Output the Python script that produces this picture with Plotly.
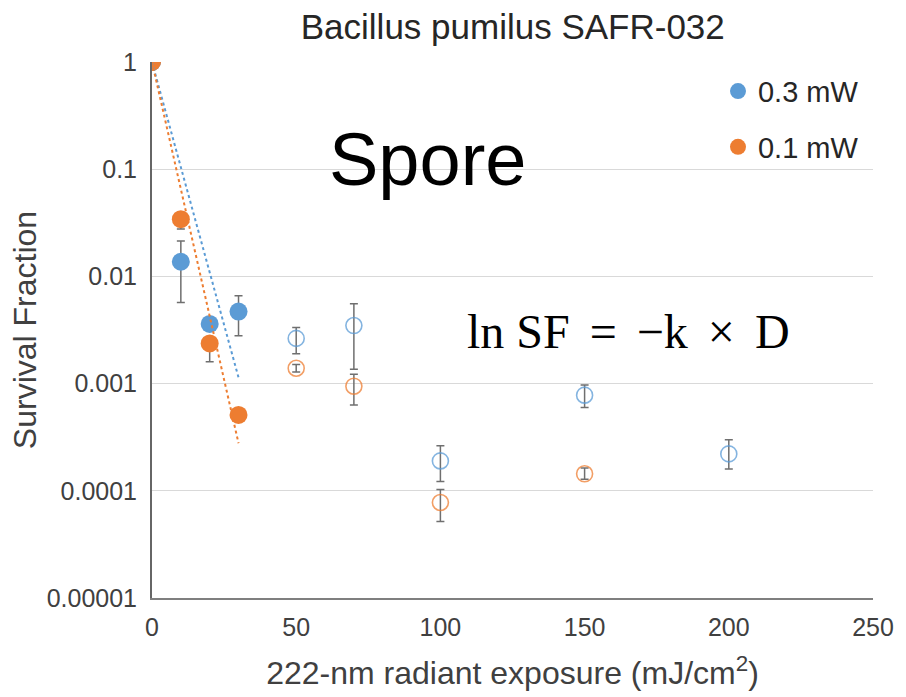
import numpy as np
import plotly.graph_objects as go

# ---- data ----
x_filled = [0, 10, 20, 30]
blue_sf = [1.0, 0.0137, 0.0036, 0.0047]
blue_hi = [1.0, 0.0214, 0.0038, 0.0066]
blue_lo = [1.0, 0.0057, 0.0034, 0.0028]

orange_sf = [1.0, 0.0342, 0.00237, 0.00051]
orange_hi = [1.0, 0.0370, 0.0027, 0.00055]
orange_lo = [1.0, 0.0277, 0.0016, 0.00046]

x_open_blue = [50, 70, 100, 150, 200]
blue_open_sf = [0.00264, 0.00348, 0.00019, 0.00078, 0.000221]
blue_open_hi = [0.00334, 0.00557, 0.000263, 0.00097, 0.0003]
blue_open_lo = [0.0019, 0.00136, 0.000122, 0.0006, 0.00016]

x_open_orange = [50, 70, 100, 150]
orange_open_sf = [0.00139, 0.000946, 0.0000778, 0.000144]
orange_open_hi = [0.00151, 0.00122, 0.000103, 0.000163]
orange_open_lo = [0.00128, 0.00063, 0.0000518, 0.000128]

y_tickvals = [1, 0.1, 0.01, 0.001, 0.0001, 0.00001]
y_ticktext = ["1", "0.1", "0.01", "0.001", "0.0001", "0.00001"]
x_tickvals = [0, 50, 100, 150, 200, 250]

BLUE = "#5B9BD5"
ORANGE = "#ED7D31"
BLUE_OPEN = "rgba(91,155,213,0.75)"
ORANGE_OPEN = "rgba(237,125,49,0.75)"
ERR = "#6F6F6F"
SANS = "Liberation Sans, Arial, sans-serif"


def errs(v, hi, lo):
    v = np.array(v); hi = np.array(hi); lo = np.array(lo)
    return dict(type="data", symmetric=False, array=(hi - v).tolist(),
                arrayminus=(v - lo).tolist(), color=ERR, thickness=1.5, width=4)


def fit_line(x, y):
    # ln SF = -k D  (fit through origin on log scale)
    x = np.array(x, float); ly = np.log(np.array(y, float))
    k = -np.sum(x * ly) / np.sum(x * x)
    xs = np.array([x[0], x[-1]])
    return xs.tolist(), np.exp(-k * xs).tolist()


fig = go.Figure()

bx, by = fit_line(x_filled, blue_sf)
ox, oy = fit_line(x_filled, orange_sf)

fig.add_trace(go.Scatter(x=x_open_blue, y=blue_open_sf, mode="markers", showlegend=False,
                         marker=dict(symbol="circle-open", size=16, color=BLUE_OPEN, line=dict(width=1.6)),
                         error_y=errs(blue_open_sf, blue_open_hi, blue_open_lo)))
fig.add_trace(go.Scatter(x=x_open_orange, y=orange_open_sf, mode="markers", showlegend=False,
                         marker=dict(symbol="circle-open", size=16, color=ORANGE_OPEN, line=dict(width=1.6)),
                         error_y=errs(orange_open_sf, orange_open_hi, orange_open_lo)))

fig.add_trace(go.Scatter(x=x_filled, y=blue_sf, mode="markers", name="0.3 mW", legendgroup="a",
                         marker=dict(size=18, color=BLUE),
                         error_y=errs(blue_sf, blue_hi, blue_lo)))
fig.add_trace(go.Scatter(x=x_filled, y=orange_sf, mode="markers", name="0.1 mW", legendgroup="b",
                         marker=dict(size=18, color=ORANGE),
                         error_y=errs(orange_sf, orange_hi, orange_lo)))

fig.add_trace(go.Scatter(x=bx, y=by, mode="lines", showlegend=False,
                         line=dict(color=BLUE, width=2, dash="dot")))
fig.add_trace(go.Scatter(x=ox, y=oy, mode="lines", showlegend=False,
                         line=dict(color=ORANGE, width=2, dash="dot")))

fig.update_layout(
    width=906, height=697,
    margin=dict(l=152, r=26, t=62, b=96),
    paper_bgcolor="white", plot_bgcolor="white",
    font=dict(family=SANS, color="#404040"),
    title=dict(text="Bacillus pumilus SAFR-032", x=0.566, xanchor="center",
               y=1 - 27 / 697, yanchor="middle", yref="container",
               font=dict(size=35, color="#262626", family=SANS)),
    legend=dict(x=0.785, xanchor="left", y=0.993, yanchor="top",
                font=dict(size=29, color="#262626"), traceorder="grouped",
                tracegroupgap=15, bgcolor="rgba(0,0,0,0)", itemwidth=30),
    showlegend=True,
)

fig.update_xaxes(range=[0, 250], tickvals=x_tickvals, showgrid=False, zeroline=False,
                 showline=True, linecolor="#7F7F7F", linewidth=1.5, ticks="",
                 tickfont=dict(size=25, color="#404040"), ticklabelstandoff=6,
                 title=dict(text="222-nm radiant exposure (mJ/cm<sup>2</sup>)",
                            font=dict(size=32, color="#404040"), standoff=22))
fig.update_yaxes(type="log", range=[-5, 0], tickvals=y_tickvals, ticktext=y_ticktext,
                 showgrid=True, gridcolor="#D9D9D9", gridwidth=1, zeroline=False,
                 showline=True, linecolor="#666666", linewidth=2, ticks="",
                 tickfont=dict(size=25, color="#404040"), ticklabelstandoff=8,
                 title=dict(text="Survival Fraction", font=dict(size=32, color="#404040"), standoff=0))

fig.add_annotation(text="Spore", xref="paper", yref="paper", x=0.382, y=0.818,
                   xanchor="center", yanchor="middle", showarrow=False,
                   font=dict(size=74, color="black", family=SANS))
sp = "\u2005\u2006"
fig.add_annotation(text=f"ln SF{sp}={sp}\u2212k{sp}×{sp}D", xref="paper", yref="paper", x=0.661, y=0.497,
                   xanchor="center", yanchor="middle", showarrow=False,
                   font=dict(size=48, color="black", family="Liberation Serif, Times New Roman, serif"))

fig.write_html("out.html")
